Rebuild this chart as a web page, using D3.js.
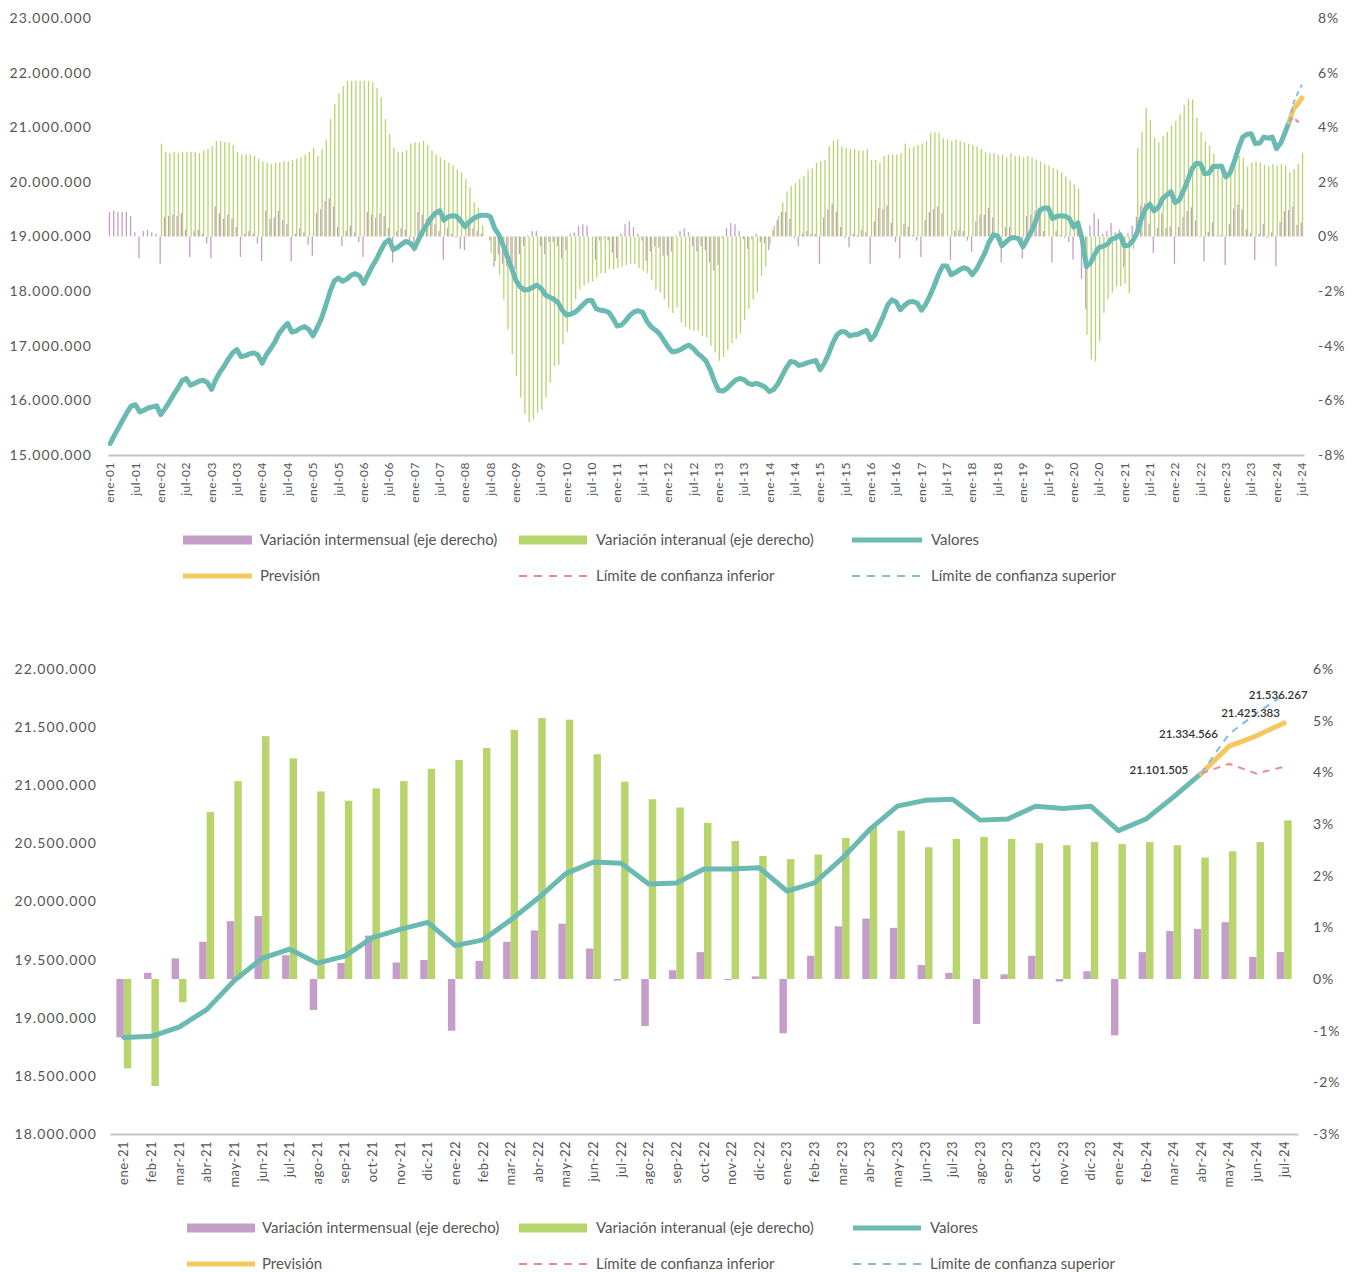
<!DOCTYPE html>
<html lang="es">
<head>
<meta charset="utf-8">
<title>Afiliación: valores, variaciones y previsión</title>
<script src="https://cdnjs.cloudflare.com/ajax/libs/d3/7.8.5/d3.min.js"></script>
<style>
  html, body { margin: 0; padding: 0; background: #fff; }
  svg { display: block; font-family: Lato, "Open Sans", sans-serif; }
</style>
</head>
<body>
<svg id="chart" width="1357" height="1272"></svg>
<script>
// categorias
const mesesAbrev = ['ene', 'feb', 'mar', 'abr', 'may', 'jun', 'jul', 'ago', 'sep', 'oct', 'nov', 'dic'];
const anios = ['01', '02', '03', '04', '05', '06', '07', '08', '09', '10', '11', '12',
  '13', '14', '15', '16', '17', '18', '19', '20', '21', '22', '23', '24'];
const ultimoMes = 'jul-24';
const inicioDetalle = 'ene-21';
const inicioPrevision = 'abr-24';

// valores (millones), uno por mes
const valores = [
  15.21, 15.36, 15.50, 15.64, 15.78, 15.90, 15.92, 15.79, 15.82, 15.86, 15.88, 15.90, // 2001
  15.74, 15.85, 15.97, 16.10, 16.22, 16.36, 16.40, 16.28, 16.31, 16.35, 16.37, 16.33, // 2002
  16.20, 16.38, 16.52, 16.63, 16.76, 16.87, 16.93, 16.80, 16.82, 16.85, 16.87, 16.83, // 2003
  16.68, 16.84, 16.95, 17.07, 17.23, 17.33, 17.41, 17.25, 17.27, 17.32, 17.35, 17.30, // 2004
  17.18, 17.33, 17.50, 17.73, 17.98, 18.18, 18.24, 18.18, 18.22, 18.29, 18.32, 18.28, // 2005
  18.14, 18.30, 18.45, 18.58, 18.74, 18.88, 18.94, 18.76, 18.80, 18.86, 18.91, 18.88, // 2006
  18.78, 18.95, 19.10, 19.22, 19.34, 19.43, 19.47, 19.30, 19.36, 19.38, 19.37, 19.28, // 2007
  19.18, 19.27, 19.33, 19.37, 19.39, 19.39, 19.36, 19.15, 19.03, 18.84, 18.63, 18.42, // 2008
  18.20, 18.08, 18.02, 18.03, 18.07, 18.11, 18.05, 17.93, 17.89, 17.85, 17.79, 17.65, // 2009
  17.56, 17.58, 17.61, 17.68, 17.76, 17.83, 17.83, 17.68, 17.65, 17.64, 17.61, 17.50, // 2010
  17.36, 17.38, 17.46, 17.56, 17.62, 17.64, 17.61, 17.45, 17.35, 17.29, 17.22, 17.10, // 2011
  16.98, 16.89, 16.90, 16.93, 16.98, 17.01, 16.95, 16.86, 16.80, 16.72, 16.56, 16.35, // 2012
  16.18, 16.17, 16.22, 16.30, 16.37, 16.40, 16.38, 16.31, 16.29, 16.31, 16.28, 16.24, // 2013
  16.16, 16.20, 16.30, 16.45, 16.60, 16.71, 16.70, 16.64, 16.66, 16.69, 16.71, 16.73, // 2014
  16.56, 16.68, 16.85, 17.05, 17.20, 17.26, 17.25, 17.18, 17.20, 17.21, 17.25, 17.28, // 2015
  17.11, 17.20, 17.38, 17.55, 17.75, 17.84, 17.80, 17.66, 17.74, 17.80, 17.81, 17.78, // 2016
  17.65, 17.76, 17.92, 18.10, 18.30, 18.46, 18.46, 18.30, 18.34, 18.39, 18.43, 18.40, // 2017
  18.30, 18.40, 18.55, 18.70, 18.90, 19.03, 19.01, 18.83, 18.90, 18.97, 18.98, 18.96, // 2018
  18.81, 18.95, 19.10, 19.28, 19.48, 19.52, 19.52, 19.33, 19.37, 19.38, 19.37, 19.33, // 2019
  19.17, 19.25, 18.95, 18.45, 18.52, 18.68, 18.80, 18.82, 18.86, 18.95, 18.98, 19.03, // 2020
  18.83, 18.84, 18.92, 19.07, 19.32, 19.51, 19.59, 19.47, 19.53, 19.69, 19.76, 19.82, // 2021
  19.62, 19.67, 19.84, 20.03, 20.24, 20.34, 20.33, 20.15, 20.16, 20.28, 20.28, 20.29, // 2022
  20.09, 20.16, 20.37, 20.62, 20.82, 20.87, 20.88, 20.70, 20.71, 20.82, 20.80, 20.82, // 2023
  20.61, 20.71, 20.90, 21.101505, null, null, null                                   // 2024
];

// variacion interanual (%)
const varInteranual = [
  null, null, null, null, null, null, null, null, null, null, null, null,        // 2001
  3.4, 3.1, 3.05, 3.1, 3.05, 3.1, 3.1, 3.1, 3.1, 3.05, 3.15, 3.2,               // 2002
  3.3, 3.5, 3.5, 3.45, 3.45, 3.35, 3.1, 3.0, 3.0, 3.0, 2.95, 2.85,              // 2003
  2.75, 2.7, 2.65, 2.7, 2.7, 2.75, 2.75, 2.8, 2.85, 2.9, 3.0, 3.1,              // 2004
  3.25, 2.95, 3.2, 3.55, 4.3, 4.85, 5.25, 5.5, 5.7, 5.7, 5.7, 5.7,              // 2005
  5.7, 5.7, 5.65, 5.45, 5.1, 4.3, 3.75, 3.25, 3.1, 3.1, 3.15, 3.4,              // 2006
  3.45, 3.45, 3.5, 3.35, 3.15, 3.0, 2.9, 2.8, 2.7, 2.6, 2.45, 2.35,             // 2007
  2.1, 1.8, 1.25, 1.05, 0.4, 0.0, -0.6, -0.9, -1.4, -2.3, -3.4, -4.3,           // 2008
  -5.1, -5.9, -6.5, -6.8, -6.7, -6.45, -6.35, -5.9, -5.35, -4.75, -4.7, -3.95,  // 2009
  -3.5, -2.85, -2.3, -1.95, -1.8, -1.7, -1.65, -1.5, -1.35, -1.35, -1.2, -1.2,  // 2010
  -1.15, -1.1, -1.05, -1.0, -1.0, -1.15, -1.25, -1.35, -1.6, -1.95, -2.05, -2.3, // 2011
  -2.6, -2.8, -2.6, -3.15, -3.3, -3.4, -3.45, -3.45, -3.65, -3.7, -4.0, -4.25,  // 2012
  -4.55, -4.4, -4.15, -3.9, -3.75, -3.55, -3.05, -2.65, -2.3, -2.05, -1.45, -1.1, // 2013
  -0.3, 0.4, 0.75, 1.25, 1.65, 1.85, 1.95, 2.1, 2.2, 2.45, 2.5, 2.7,            // 2014
  2.75, 2.8, 3.3, 3.5, 3.55, 3.3, 3.25, 3.2, 3.2, 3.15, 3.15, 3.2,              // 2015
  2.8, 2.8, 2.7, 2.95, 3.0, 3.0, 3.0, 3.05, 3.4, 3.25, 3.3, 3.35,               // 2016
  3.4, 3.5, 3.8, 3.82, 3.8, 3.6, 3.55, 3.5, 3.55, 3.5, 3.45, 3.4,               // 2017
  3.35, 3.3, 3.2, 3.1, 3.05, 3.05, 3.0, 3.0, 2.9, 3.05, 2.95, 2.95,             // 2018
  2.9, 2.95, 2.9, 2.82, 2.75, 2.65, 2.6, 2.5, 2.45, 2.35, 2.2, 2.05,            // 2019
  1.9, 1.75, -0.3, -3.6, -4.5, -4.57, -3.83, -2.8, -2.3, -2.05, -1.82, -1.82,   // 2020
  -1.73, -2.07, -0.45, 3.23, 3.83, 4.70, 4.27, 3.63, 3.45, 3.69, 3.83, 4.07,    // 2021
  4.24, 4.47, 4.82, 5.05, 5.02, 4.35, 3.82, 3.48, 3.32, 3.02, 2.67, 2.38,       // 2022
  2.32, 2.41, 2.73, 2.95, 2.87, 2.55, 2.71, 2.75, 2.71, 2.63, 2.59, 2.65,       // 2023
  2.61, 2.65, 2.59, 2.35, 2.47, 2.65, 3.07                                      // 2024
];

// variacion intermensual (%)
const varIntermensual = [
  0.9, 0.95, 0.9, 0.9, 0.9, 0.75, 0.15, -0.8, 0.2, 0.25, 0.15, 0.1,             // 2001
  -1.0, 0.7, 0.75, 0.8, 0.75, 0.85, 0.25, -0.75, 0.2, 0.25, 0.1, -0.25,         // 2002
  -0.8, 1.1, 0.85, 0.65, 0.8, 0.65, 0.35, -0.75, 0.1, 0.2, 0.1, -0.25,          // 2003
  -0.9, 0.95, 0.65, 0.7, 0.95, 0.6, 0.45, -0.9, 0.1, 0.3, 0.15, -0.3,           // 2004
  -0.7, 0.85, 1.0, 1.3, 1.4, 1.1, 0.35, -0.35, 0.2, 0.4, 0.15, -0.2,            // 2005
  -0.75, 0.9, 0.8, 0.7, 0.85, 0.75, 0.3, -0.95, 0.2, 0.3, 0.25, -0.15,          // 2006
  -0.55, 0.9, 0.8, 0.65, 0.6, 0.45, 0.2, -0.85, 0.3, 0.1, -0.05, -0.45,         // 2007
  -0.5, 0.45, 0.3, 0.2, 0.1, 0.0, -0.15, -1.1, -0.65, -1.0, -1.1, -1.15,        // 2008
  -1.2, -0.65, -0.35, 0.05, 0.2, 0.2, -0.35, -0.65, -0.2, -0.2, -0.35, -0.8,    // 2009
  -0.5, 0.1, 0.15, 0.4, 0.45, 0.4, 0.0, -0.85, -0.15, -0.05, -0.15, -0.6,       // 2010
  -0.8, 0.1, 0.45, 0.55, 0.35, 0.1, -0.15, -0.9, -0.55, -0.35, -0.4, -0.7,      // 2011
  -0.7, -0.55, 0.05, 0.2, 0.3, 0.15, -0.35, -0.55, -0.35, -0.5, -0.95, -1.25,   // 2012
  -1.05, -0.05, 0.3, 0.5, 0.45, 0.2, -0.1, -0.45, -0.1, 0.1, -0.2, -0.25,       // 2013
  -0.5, 0.25, 0.6, 0.9, 0.9, 0.65, -0.05, -0.35, 0.1, 0.2, 0.1, 0.1,            // 2014
  -1.0, 0.7, 1.0, 1.2, 0.9, 0.35, -0.05, -0.4, 0.1, 0.05, 0.25, 0.15,           // 2015
  -1.0, 0.55, 1.05, 1.0, 1.15, 0.5, -0.2, -0.8, 0.45, 0.35, 0.05, -0.15,        // 2016
  -0.75, 0.6, 0.9, 1.0, 1.1, 0.85, 0.0, -0.85, 0.2, 0.25, 0.2, -0.15,           // 2017
  -0.55, 0.55, 0.8, 0.8, 1.05, 0.7, -0.1, -0.95, 0.35, 0.35, 0.05, -0.1,        // 2018
  -0.8, 0.75, 0.8, 0.95, 1.05, 0.2, 0.0, -0.95, 0.2, 0.05, -0.05, -0.2,         // 2019
  -0.85, 0.4, -1.55, -2.65, 0.4, 0.85, 0.65, 0.1, 0.2, 0.5, 0.15, 0.25,         // 2020
  -1.13, 0.12, 0.40, 0.72, 1.12, 1.22, 0.46, -0.60, 0.31, 0.84, 0.32, 0.37,     // 2021
  -1.00, 0.35, 0.72, 0.94, 1.07, 0.59, -0.03, -0.91, 0.17, 0.52, -0.02, 0.05,   // 2022
  -1.05, 0.45, 1.02, 1.17, 0.99, 0.27, 0.12, -0.87, 0.09, 0.45, -0.05, 0.15,    // 2023
  -1.09, 0.52, 0.93, 0.97, 1.10, 0.43, 0.52                                     // 2024
];

// prevision abr-24 .. jul-24 (personas)
const prevision = [21101505, 21334566, 21425383, 21536267];
const limiteInferior = [21101505, 21185000, 21100000, 21160000];
const limiteSuperior = [21101505, 21440000, 21620000, 21780000];

const leyenda = [
  { nombre: 'Variación intermensual (eje derecho)', tipo: 'rect', color: '#c59dc9' },
  { nombre: 'Variación interanual (eje derecho)', tipo: 'rect', color: '#b7d46d' },
  { nombre: 'Valores', tipo: 'line', color: '#6bbab2' },
  { nombre: 'Previsión', tipo: 'line', color: '#f4c85e' },
  { nombre: 'Límite de confianza inferior', tipo: 'dash', color: '#ea8a92' },
  { nombre: 'Límite de confianza superior', tipo: 'dash', color: '#82bdea' }
];

const meses = anios.flatMap(a => mesesAbrev.map(m => m + '-' + a));
const categorias = meses.slice(0, meses.indexOf(ultimoMes) + 1);
const datos = categorias.map((mes, i) => ({
  mes: mes, v: valores[i], anual: varInteranual[i], mensual: varIntermensual[i]
}));
const iPrev = categorias.indexOf(inicioPrevision);
const datosPrev = prevision.map((p, k) => ({
  mes: categorias[iPrev + k], p: p, inf: limiteInferior[k], sup: limiteSuperior[k]
}));

const miles = d3.formatLocale({ decimal: ',', thousands: '.', grouping: [3], currency: ['', ''] }).format(',.0f');
const colores = {};
leyenda.forEach(l => { colores[l.nombre] = l.color; });
const cMensual = leyenda[0].color, cAnual = leyenda[1].color, cValores = leyenda[2].color;
const cPrev = leyenda[3].color, cInf = leyenda[4].color, cSup = leyenda[5].color;

const svg = d3.select('#chart');

function panel(cfg) {
  const g = svg.append('g');
  const x = d3.scaleBand().domain(cfg.datos.map(d => d.mes)).range(cfg.xRange);
  const yL = d3.scaleLinear().domain(cfg.yDom).range([cfg.bottom, cfg.top]);
  const yR = d3.scaleLinear().domain(cfg.pDom).range([cfg.bottom, cfg.top]);
  const cx = d => x(d) + x.bandwidth() / 2;

  // eje izquierdo
  g.append('g')
    .attr('transform', `translate(${cfg.leftX},0)`)
    .call(d3.axisLeft(yL).tickValues(cfg.yTicks).tickSize(0).tickPadding(0).tickFormat(d => miles(d * 1e6)))
    .call(a => a.select('.domain').remove())
    .selectAll('text')
    .attr('fill', '#555').style('font-size', '14px').style('letter-spacing', '1.1px')
    .style('font-family', 'Lato, sans-serif');

  // eje derecho
  g.append('g')
    .attr('transform', `translate(${cfg.rightX},0)`)
    .call(d3.axisRight(yR).tickValues(cfg.pTicks).tickSize(0).tickPadding(0).tickFormat(d => d + '%'))
    .call(a => a.select('.domain').remove())
    .selectAll('text')
    .attr('fill', '#555').style('font-size', '14px').style('letter-spacing', '1px')
    .style('font-family', 'Lato, sans-serif');

  // barras
  const barras = cfg.datos.filter(d => d.mensual != null);
  g.append('g').selectAll('rect')
    .data(barras)
    .join('rect')
    .attr('x', d => cx(d.mes) - cfg.barW)
    .attr('width', cfg.barW)
    .attr('y', d => Math.min(yR(d.mensual), yR(0)))
    .attr('height', d => Math.abs(yR(d.mensual) - yR(0)))
    .attr('fill', cMensual);
  g.append('g').selectAll('rect')
    .data(cfg.datos.filter(d => d.anual != null))
    .join('rect')
    .attr('x', d => cx(d.mes))
    .attr('width', cfg.barW)
    .attr('y', d => Math.min(yR(d.anual), yR(0)))
    .attr('height', d => Math.abs(yR(d.anual) - yR(0)))
    .attr('fill', cAnual);

  // eje x
  const xAxis = g.append('g')
    .attr('transform', `translate(0,${cfg.bottom})`)
    .call(d3.axisBottom(x).tickValues(cfg.datos.map(d => d.mes).filter((m, i) => i % cfg.tickEvery === 0)).tickSize(0));
  xAxis.select('.domain').attr('stroke', '#c4c4c4').attr('stroke-width', 1.8);
  xAxis.selectAll('text')
    .attr('transform', 'rotate(-90)')
    .attr('x', -7).attr('y', 0).attr('dy', '0.35em')
    .style('text-anchor', 'end')
    .attr('fill', '#555').style('font-size', cfg.xFont + 'px').style('letter-spacing', '0.5px')
    .style('font-family', 'Lato, sans-serif');

  // linea de valores
  const linea = d3.line()
    .defined(d => d.v != null)
    .x(d => cx(d.mes)).y(d => yL(d.v));
  g.append('path')
    .datum(cfg.datos)
    .attr('d', linea)
    .attr('fill', 'none').attr('stroke', cValores).attr('stroke-width', cfg.lineW)
    .attr('stroke-linejoin', 'round').attr('stroke-linecap', 'round');

  // prevision y limites
  const lp = key => d3.line().x(d => cx(d.mes)).y(d => yL(d[key] / 1e6));
  g.append('path').datum(datosPrev).attr('d', lp('p'))
    .attr('fill', 'none').attr('stroke', cPrev).attr('stroke-width', cfg.lineW)
    .attr('stroke-linejoin', 'round').attr('stroke-linecap', 'round');
  g.append('path').datum(datosPrev).attr('d', lp('inf'))
    .attr('fill', 'none').attr('stroke', cInf).attr('stroke-width', 2).attr('stroke-dasharray', cfg.dash);
  g.append('path').datum(datosPrev).attr('d', lp('sup'))
    .attr('fill', 'none').attr('stroke', cSup).attr('stroke-width', 2).attr('stroke-dasharray', cfg.dash);

  if (cfg.etiquetas) {
    g.append('g').selectAll('text')
      .data(datosPrev)
      .join('text')
      .attr('x', (d, k) => cx(d.mes) + (k === 0 ? -13 : k === 1 ? -11 : -6))
      .attr('y', (d, k) => k === 0 ? yL(d.p / 1e6) + 1 : yL(d.sup / 1e6) + 4)
      .attr('text-anchor', (d, k) => k < 2 ? 'end' : 'middle')
      .attr('fill', '#333').style('font-size', '11.5px').style('font-weight', '600')
      .text(d => miles(d.p));
  }

  // leyenda
  const ley = g.append('g');
  leyenda.forEach((l, k) => {
    const fila = Math.floor(k / 3), col = k % 3;
    const y = cfg.legY[fila];
    const [x0, x1] = cfg.legSw[col];
    if (l.tipo === 'rect') {
      ley.append('rect').attr('x', x0).attr('y', y - 4.5).attr('width', x1 - x0).attr('height', 9).attr('fill', l.color);
    } else {
      ley.append('line').attr('x1', x0).attr('x2', x1).attr('y1', y).attr('y2', y)
        .attr('stroke', l.color)
        .attr('stroke-width', l.tipo === 'dash' ? 2 : 5)
        .attr('stroke-dasharray', l.tipo === 'dash' ? '8,7' : null);
    }
    ley.append('text').attr('x', cfg.legTx[col]).attr('y', y).attr('dy', '0.35em')
      .attr('fill', '#555').style('font-size', '15px')
      .text(l.nombre);
  });
}

panel({
  datos: datos,
  xRange: [108, 1304], top: 18, bottom: 455,
  yDom: [15, 23], yTicks: d3.range(15, 23.5, 1),
  pDom: [-8, 8], pTicks: d3.range(-8, 9, 2),
  leftX: 92, rightX: 1318, barW: 1.3, tickEvery: 6, xFont: 12, lineW: 5, dash: '5,4',
  etiquetas: false,
  legY: [540, 576], legSw: [[183, 252], [519, 587], [852, 922]], legTx: [260, 596, 931]
});

panel({
  datos: datos.slice(categorias.indexOf(inicioDetalle)),
  xRange: [110, 1298], top: 669, bottom: 1134,
  yDom: [18, 22], yTicks: d3.range(18, 22.25, 0.5),
  pDom: [-3, 6], pTicks: d3.range(-3, 7, 1),
  leftX: 97, rightX: 1313, barW: 7.45, tickEvery: 1, xFont: 13, lineW: 5, dash: '7,6',
  etiquetas: true,
  legY: [1228, 1264], legSw: [[187, 255], [519, 587], [853, 921]], legTx: [262, 596, 930]
});
</script>
</body>
</html>
